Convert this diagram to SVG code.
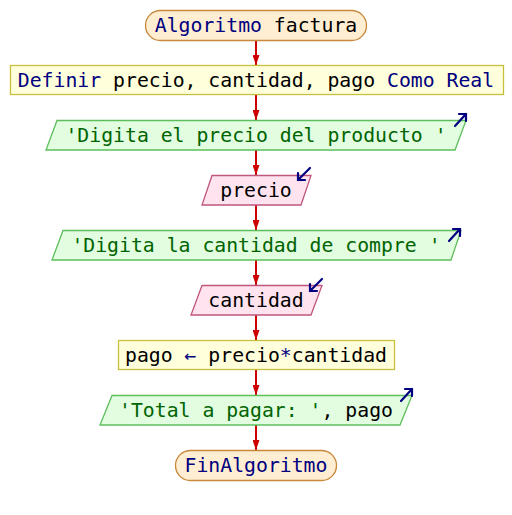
<svg xmlns="http://www.w3.org/2000/svg" width="512" height="515" viewBox="0 0 512 515">
  <style>
    text { font-family: "DejaVu Sans Mono", "Liberation Mono", monospace; font-size: 19.8px; text-anchor: middle; fill: #000000; }
    .kw { fill: #000080; }
    .str { fill: #006400; }
    .term { fill: #ffeed2; stroke: #c8873a; stroke-width: 1.3; }
    .proc { fill: #ffffdc; stroke: #c8c03c; stroke-width: 1.3; }
    .out { fill: #e2fde0; stroke: #5cbf5c; stroke-width: 1.3; }
    .in { fill: #ffe4ef; stroke: #c0567e; stroke-width: 1.3; }
    .flow { stroke: #cc0000; stroke-width: 2; fill: none; }
    .icon { stroke: #000080; stroke-width: 2.2; fill: none; stroke-linecap: round; stroke-linejoin: miter; }
  </style>
  <defs>
    <marker id="head" viewBox="0 0 10 7" refX="10" refY="3.5" markerWidth="10" markerHeight="7" markerUnits="userSpaceOnUse" orient="auto">
      <path d="M0,0 L10,3.5 L0,7 Z" fill="#cc0000"/>
    </marker>
  </defs>

  <g id="connectors">
    <line class="flow" x1="256" y1="41" x2="256" y2="65" marker-end="url(#head)"/>
    <line class="flow" x1="256" y1="95" x2="256" y2="120" marker-end="url(#head)"/>
    <line class="flow" x1="256" y1="150" x2="256" y2="175" marker-end="url(#head)"/>
    <line class="flow" x1="256" y1="205" x2="256" y2="230" marker-end="url(#head)"/>
    <line class="flow" x1="256" y1="260" x2="256" y2="285" marker-end="url(#head)"/>
    <line class="flow" x1="256" y1="315" x2="256" y2="340" marker-end="url(#head)"/>
    <line class="flow" x1="256" y1="370" x2="256" y2="395" marker-end="url(#head)"/>
    <line class="flow" x1="256" y1="425" x2="256" y2="450" marker-end="url(#head)"/>
  </g>

  <g id="start">
    <rect class="term" x="145.5" y="10.5" width="221" height="30" rx="15" ry="15"/>
    <text x="256" y="32"><tspan class="kw">Algoritmo</tspan> factura</text>
  </g>

  <g id="define">
    <rect class="proc" x="10.5" y="65.5" width="493" height="29"/>
    <text x="256" y="87"><tspan class="kw">Definir</tspan> precio, cantidad, pago <tspan class="kw">Como Real</tspan></text>
  </g>

  <g id="print-precio">
    <polygon class="out" points="57,120.5 466,120.5 455,150 46,150"/>
    <text x="256" y="142" class="str">'Digita el precio del producto '</text>
    <path class="icon" d="M455,126 L466,114 M459,114 L466,114 L466,121"/>
  </g>

  <g id="read-precio">
    <polygon class="in" points="212,175.5 311,175.5 301,205 202,205"/>
    <text x="256" y="197">precio</text>
    <path class="icon" d="M310,168 L298,180 M298,173 L298,180 L305,180"/>
  </g>

  <g id="print-cantidad">
    <polygon class="out" points="63,230.5 461,230.5 451,260 52,260"/>
    <text x="256" y="252" class="str">'Digita la cantidad de compre '</text>
    <path class="icon" d="M449,241 L460,229 M453,229 L460,229 L460,236"/>
  </g>

  <g id="read-cantidad">
    <polygon class="in" points="202,285.5 322,285.5 311,315 191,315"/>
    <text x="256" y="307">cantidad</text>
    <path class="icon" d="M322,279 L310,291 M310,284 L310,291 L317,291"/>
  </g>

  <g id="assign">
    <rect class="proc" x="118.5" y="340.5" width="276" height="29"/>
    <text x="256" y="362">pago <tspan class="kw">←</tspan> precio<tspan class="kw">*</tspan>cantidad</text>
  </g>

  <g id="print-total">
    <polygon class="out" points="112,395.5 412,395.5 400,425 100,425"/>
    <text x="256" y="417"><tspan class="str">'Total a pagar: '</tspan>, pago</text>
    <path class="icon" d="M401,401 L412,389 M405,389 L412,389 L412,396"/>
  </g>

  <g id="end">
    <rect class="term" x="175.5" y="450.5" width="161" height="30" rx="15" ry="15"/>
    <text x="256" y="472" class="kw">FinAlgoritmo</text>
  </g>
</svg>
